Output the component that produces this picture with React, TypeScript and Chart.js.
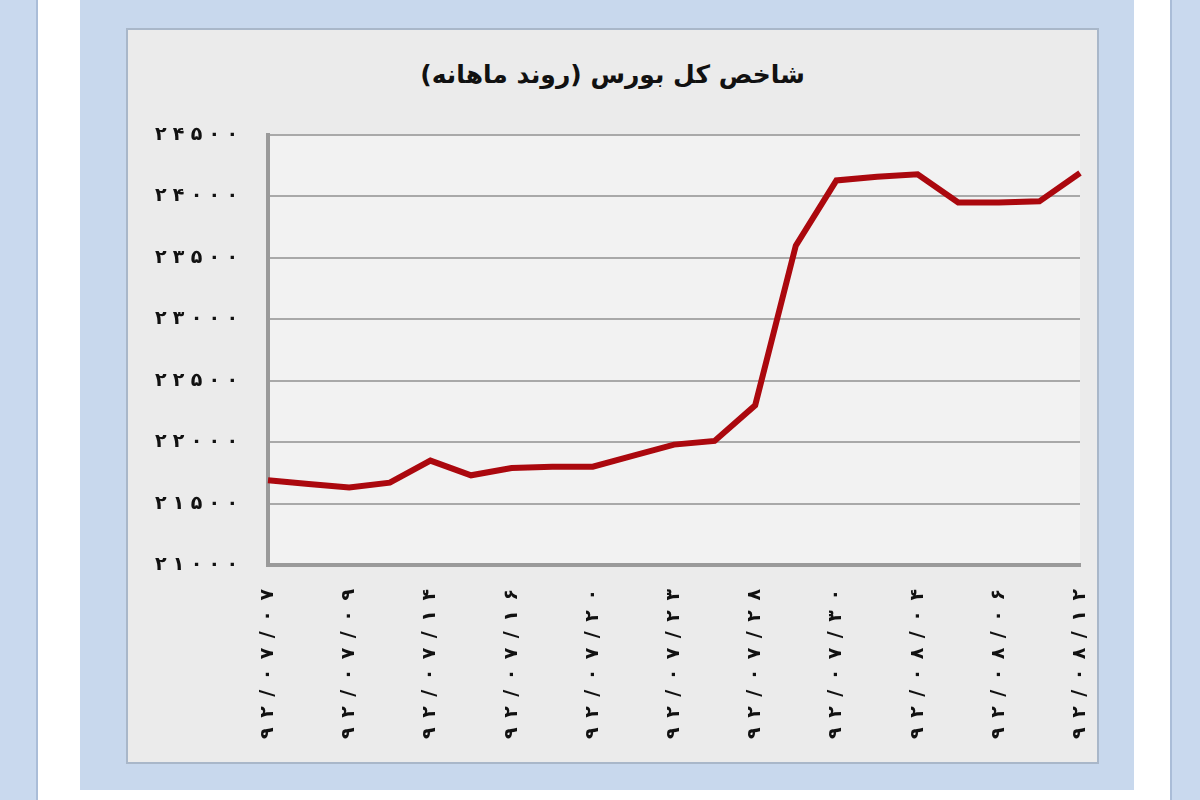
import React, { useEffect, useRef } from 'react';
import { Chart, registerables } from 'chart.js';

Chart.register(...registerables);

const chartTitle = 'شاخص کل بورس (روند ماهانه)';

// every other point carries a date label
const dateTicks = [
  '۹۲/۰۷/۰۷',
  '۹۲/۰۷/۰۹',
  '۹۲/۰۷/۱۴',
  '۹۲/۰۷/۱۶',
  '۹۲/۰۷/۲۰',
  '۹۲/۰۷/۲۳',
  '۹۲/۰۷/۲۸',
  '۹۲/۰۷/۳۰',
  '۹۲/۰۸/۰۴',
  '۹۲/۰۸/۰۶',
  '۹۲/۰۸/۱۲',
];

const indexValues = [
  21690, 21660, 21630, 21670, 21850, 21730, 21790, 21800, 21800, 21890, 21980,
  22010, 22300, 23600, 24130, 24160, 24180, 23950, 23950, 23960, 24190,
];

const yMin = 21000;
const yMax = 24500;
const yStep = 500;

const toFa = (s: string) => s.replace(/\d/g, (d) => '۰۱۲۳۴۵۶۷۸۹'[Number(d)]);
// the source draws its numbers widely spaced
const spread = (s: string, gap: string) => Array.from(s).join(gap);

const plotBackground = {
  id: 'plotBackground',
  beforeDraw(chart: Chart) {
    const { ctx, chartArea } = chart;
    ctx.save();
    ctx.fillStyle = '#f2f2f2';
    ctx.fillRect(chartArea.left, chartArea.top, chartArea.right - chartArea.left, chartArea.bottom - chartArea.top);
    ctx.restore();
  },
};

const IndexChart: React.FC = () => {
  const canvasRef = useRef<HTMLCanvasElement>(null);

  useEffect(() => {
    if (!canvasRef.current) return;
    const labels = indexValues.map((_, i) => (i % 2 === 0 ? dateTicks[i / 2] : ''));

    const chart = new Chart(canvasRef.current, {
      type: 'line',
      data: {
        labels,
        datasets: [
          {
            label: chartTitle,
            data: indexValues,
            borderColor: '#ab080e',
            borderWidth: 6,
            pointRadius: 0,
            tension: 0,
            fill: false,
          },
        ],
      },
      options: {
        animation: false,
        responsive: true,
        maintainAspectRatio: false,
        layout: { padding: { left: 0, right: 17, top: 105, bottom: 0 } },
        plugins: {
          legend: { display: false },
          title: { display: false },
          tooltip: { enabled: false },
        },
        scales: {
          x: {
            afterFit: (scale: any) => {
              scale.height = 197;
              scale.paddingLeft = 0;
              scale.paddingRight = 0;
            },
            grid: { display: false, drawTicks: false },
            border: { color: '#9a9a9a', width: 4 },
            ticks: {
              autoSkip: false,
              minRotation: 90,
              maxRotation: 90,
              padding: 24,
              color: '#111',
              font: { family: 'DejaVu Sans', size: 19, weight: 'bold' },
              callback: (_v: any, i: number) => spread(labels[i], '\u2002'),
            },
          },
          y: {
            min: yMin,
            max: yMax,
            afterFit: (scale: any) => {
              scale.width = 140;
            },
            grid: { color: '#a9a9a9', lineWidth: 2, drawTicks: false },
            border: { color: '#9a9a9a', width: 4 },
            ticks: {
              stepSize: yStep,
              padding: 30,
              color: '#111',
              font: { family: 'DejaVu Sans', size: 19, weight: 'bold' },
              callback: (v: any) => spread(toFa(String(v)), '\u2004'),
            },
          },
        },
      },
      plugins: [plotBackground],
    });

    return () => {
      chart.destroy();
    };
  }, []);

  return <canvas ref={canvasRef} />;
};

export default function App() {
  return (
    <div style={{ position: 'fixed', left: 0, top: 0, width: 1200, height: 800, background: '#ffffff', overflow: 'hidden' }}>
      <div style={{ position: 'absolute', left: 0, top: 0, width: 36, height: 800, background: '#c9d9ee', borderRight: '2px solid #aabdd8' }} />
      <div style={{ position: 'absolute', left: 80, top: 0, width: 1054, height: 790, background: '#c8d8ed' }} />
      <div style={{ position: 'absolute', left: 1170, top: 0, width: 30, height: 800, background: '#c9d9ee', borderLeft: '2px solid #aabdd8' }} />
      <div
        style={{
          position: 'absolute',
          left: 126,
          top: 28,
          width: 969,
          height: 732,
          background: '#ebebeb',
          border: '2px solid #a9b7c9',
        }}
      >
        <div
          dir="rtl"
          style={{
            position: 'absolute',
            left: 0,
            top: 30,
            width: 969,
            textAlign: 'center',
            fontFamily: 'DejaVu Sans',
            fontWeight: 'bold',
            fontSize: 25,
            color: '#111',
          }}
        >
          {chartTitle}
        </div>
        <div style={{ position: 'absolute', left: 0, top: 0, width: 969, height: 732 }}>
          <IndexChart />
        </div>
      </div>
    </div>
  );
}
